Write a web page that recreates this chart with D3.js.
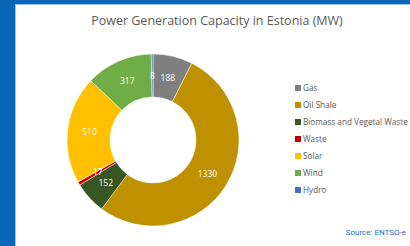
<!DOCTYPE html>
<html>
<head>
<meta charset="utf-8">
<script src="https://cdn.jsdelivr.net/npm/d3@7"></script>
<style>
  body { margin: 0; background: #0a66b8; }
  #wrapper { width: 410px; height: 246px; overflow: hidden; }
</style>
</head>
<body>
<div id="wrapper"></div>
<script>
const categories = ["Gas", "Oil Shale", "Biomass and Vegetal Waste", "Waste", "Solar", "Wind", "Hydro"];
const values = [188, 1330, 152, 17, 510, 317, 8];
const colors = ["#7f7f7f", "#bf9000", "#375623", "#c00000", "#ffc000", "#70ad47", "#4472c4"];

const data = categories.map((c, i) => ({ name: c, value: values[i], color: colors[i] }));

const width = 410;
const height = 246;

const svg = d3.select("#wrapper")
  .append("svg")
  .attr("width", width)
  .attr("height", height);

// blue frame
svg.append("rect")
  .attr("width", width).attr("height", height)
  .attr("fill", "#0a66b8");
svg.append("rect")
  .attr("x", 15).attr("y", 4)
  .attr("width", width - 15).attr("height", height - 4)
  .attr("fill", "#9cc3e8");
svg.append("rect")
  .attr("x", 16).attr("y", 5)
  .attr("width", width - 16).attr("height", height - 5)
  .attr("fill", "#ffffff");

svg.append("text")
  .attr("x", 217)
  .attr("y", 25)
  .attr("text-anchor", "middle")
  .attr("fill", "#595959")
  .style("font-family", "'Open Sans', sans-serif")
  .style("font-size", "12.5px")
  .text("Power Generation Capacity in Estonia (MW)");

const outerR = 86;
const innerR = 43;
const center = { x: 153, y: 140 };

const pie = d3.pie().sort(null).value((d) => d.value);
const arc = d3.arc().innerRadius(innerR).outerRadius(outerR);
const labelArc = d3.arc().innerRadius(64).outerRadius(64);

const donut = svg.append("g")
  .attr("transform", `translate(${center.x},${center.y})`);

const arcs = pie(data);

donut.selectAll("path")
  .data(arcs)
  .join("path")
  .attr("d", arc)
  .attr("fill", (d) => d.data.color)
  .attr("stroke", "#ffffff")
  .attr("stroke-width", 0.5);

donut.selectAll("text")
  .data(arcs)
  .join("text")
  .attr("transform", (d) => `translate(${labelArc.centroid(d)})`)
  .attr("text-anchor", "middle")
  .attr("dy", "0.35em")
  .attr("fill", "#ffffff")
  .style("font-family", "'Open Sans', sans-serif")
  .style("font-size", "8.5px")
  .text((d) => d.data.value);

const legendY = d3.scalePoint()
  .domain(categories)
  .range([88, 190]);

const legend = svg.append("g");
const items = legend.selectAll("g")
  .data(data)
  .join("g")
  .attr("transform", (d) => `translate(295,${legendY(d.name)})`);

items.append("rect")
  .attr("x", 0).attr("y", -3)
  .attr("width", 6).attr("height", 6)
  .attr("fill", (d) => d.color);

items.append("text")
  .attr("x", 8)
  .attr("dy", "0.35em")
  .attr("fill", "#595959")
  .style("font-family", "'Open Sans', sans-serif")
  .style("font-size", "8.2px")
  .text((d) => d.name);

svg.append("text")
  .attr("x", 406)
  .attr("y", 235)
  .attr("text-anchor", "end")
  .attr("fill", "#1f6bbf")
  .style("font-family", "Roboto, sans-serif")
  .style("font-size", "8px")
  .text("Source: ENTSO-e");
</script>
</body>
</html>
